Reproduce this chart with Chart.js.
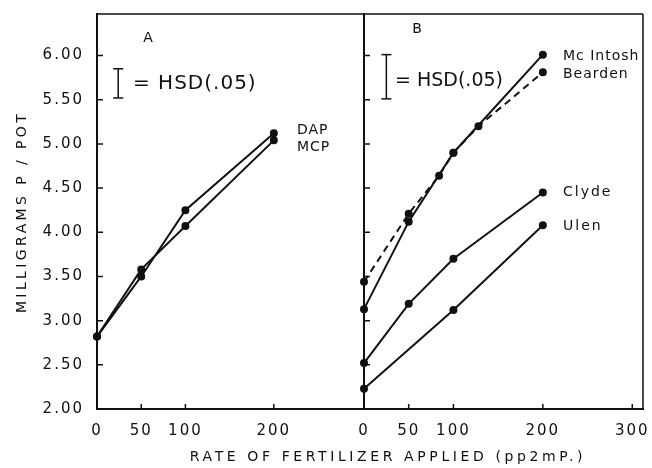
<!DOCTYPE html>
<html>
<head>
<meta charset="utf-8">
<script src="https://cdn.jsdelivr.net/npm/chart.js@4.4.1/dist/chart.umd.min.js"></script>
<style>
  html, body { margin: 0; padding: 0; background: #fff; }
  #wrap { position: relative; width: 652px; height: 468px; }
  #wrap canvas { position: absolute; left: 0; top: 0; }
</style>
</head>
<body>
<div id="wrap">
  <canvas id="chartA" width="652" height="468"></canvas>
  <canvas id="chartB" width="652" height="468"></canvas>
</div>
<script>
// tick values
const yTicks = [2, 2.5, 3, 3.5, 4, 4.5, 5, 5.5, 6];
const xTicksA = [0, 50, 100, 200];
const xTicksB = [0, 50, 100, 200, 300];

// panel A : fertilizer source
const ratesA = [0, 50, 100, 200];
const dap = [2.82, 3.50, 4.25, 5.12];
const mcp = [2.82, 3.58, 4.07, 5.04];

// panel B : soils
const rates = [0, 50, 100, 200];
const mcintosh = [3.13, 4.12, 4.90, 6.01];
const beardenRates = [0, 50, 84, 100, 128, 200];
const bearden = [3.44, 4.21, 4.64, 4.90, 5.20, 5.81];
const clyde = [2.52, 3.19, 3.70, 4.45];
const ulenRates = [0, 100, 200];
const ulen = [2.23, 3.12, 4.08];

// HSD(.05) bars [low, high]
const hsdA = [5.52, 5.85];
const hsdB = [5.51, 6.01];

const INK = '#111';
const FONT = 'DejaVu Sans';

function pts(xs, ys) { return xs.map((x, i) => ({ x: x, y: ys[i] })); }

function series(data, dash) {
  return {
    data: data,
    borderColor: INK,
    backgroundColor: INK,
    borderWidth: 2,
    borderDash: dash || [],
    pointRadius: 3,
    pointHoverRadius: 3,
    tension: 0,
    clip: false
  };
}

function hsdSet(x, range) {
  return {
    data: [{ x: x, y: range[0] }, { x: x, y: range[1] }],
    borderColor: INK,
    backgroundColor: INK,
    borderWidth: 1.5,
    pointStyle: 'line',
    pointRadius: 5,
    pointBorderWidth: 1.5,
    clip: false
  };
}

// letter spacing for library text
const spacing = {
  id: 'spacing',
  beforeLayout(chart) { chart.ctx.letterSpacing = '2px'; },
  beforeDraw(chart) { chart.ctx.letterSpacing = '2px'; }
};

// frame + inward tick marks
function frame(sides) {
  return {
    id: 'frame',
    afterDraw(chart) {
      const { ctx, chartArea: a, scales } = chart;
      ctx.save();
      ctx.strokeStyle = INK;
      ctx.lineWidth = 1.5;
      ctx.beginPath();
      if (sides.top) { ctx.moveTo(a.left, a.top); ctx.lineTo(a.right, a.top); }
      if (sides.right) { ctx.moveTo(a.right, a.top); ctx.lineTo(a.right, a.bottom); }
      scales.x.ticks.forEach(t => {
        if (t.value === 0) return;
        const px = scales.x.getPixelForValue(t.value);
        ctx.moveTo(px, a.bottom); ctx.lineTo(px, a.bottom - 5);
      });
      scales.y.ticks.forEach(t => {
        const py = scales.y.getPixelForValue(t.value);
        ctx.moveTo(a.left, py); ctx.lineTo(a.left + 6, py);
      });
      ctx.stroke();
      ctx.restore();
    }
  };
}

function text(ctx, str, x, y, size, ls, align) {
  ctx.font = size + 'px "' + FONT + '"';
  ctx.letterSpacing = ls + 'px';
  ctx.textAlign = align || 'left';
  ctx.textBaseline = 'middle';
  ctx.fillText(str, x, y);
}

const labelsA = {
  id: 'labelsA',
  afterDraw(chart) {
    const { ctx } = chart;
    ctx.save();
    ctx.fillStyle = INK;
    text(ctx, 'A', 148, 38, 14, 0, 'center');
    text(ctx, '= HSD(.05)', 133, 84, 20, 1);
    text(ctx, 'DAP', 297, 130, 14, 1);
    text(ctx, 'MCP', 297, 147, 14, 1);
    text(ctx, 'RATE OF FERTILIZER APPLIED (pp2mP.)', 388, 457, 14, 3.6, 'center');
    ctx.translate(22, 212);
    ctx.rotate(-Math.PI / 2);
    text(ctx, 'MILLIGRAMS P / POT', 0, 0, 14, 3.4, 'center');
    ctx.restore();
  }
};

const labelsB = {
  id: 'labelsB',
  afterDraw(chart) {
    const { ctx } = chart;
    ctx.save();
    ctx.fillStyle = INK;
    text(ctx, 'B', 417, 29, 14, 0, 'center');
    text(ctx, '= HSD(.05)', 395, 81, 19, 0);
    text(ctx, 'Mc Intosh', 563, 56, 14, 1);
    text(ctx, 'Bearden', 563, 74, 14, 1);
    text(ctx, 'Clyde', 563, 192, 14, 2);
    text(ctx, 'Ulen', 563, 226, 14, 2);
    ctx.restore();
  }
};

function scalesFor(xMax, xTicks, yWidth, showY) {
  return {
    x: {
      type: 'linear',
      min: 0,
      max: xMax,
      afterBuildTicks: s => { s.ticks = xTicks.map(v => ({ value: v })); },
      afterFit: s => { s.height = 59; s.paddingLeft = 0; s.paddingRight = 0; },
      grid: { display: false, drawTicks: false },
      border: { color: INK, width: 2 },
      ticks: { color: INK, font: { family: FONT, size: 15 }, padding: 13, maxRotation: 0, autoSkip: false }
    },
    y: {
      type: 'linear',
      min: 2,
      max: 6.47,
      afterBuildTicks: s => { s.ticks = yTicks.map(v => ({ value: v })); },
      afterFit: s => { s.width = yWidth; s.paddingTop = 0; s.paddingBottom = 0; },
      grid: { display: false, drawTicks: false },
      border: { color: INK, width: 2 },
      ticks: {
        display: showY,
        color: INK,
        font: { family: FONT, size: 15 },
        padding: 13,
        callback: v => v.toFixed(2)
      }
    }
  };
}

const common = {
  responsive: false,
  animation: false,
  events: [],
  plugins: { legend: { display: false }, tooltip: { enabled: false } }
};

new Chart(document.getElementById('chartA'), {
  type: 'line',
  data: {
    datasets: [
      series(pts(ratesA, dap)),
      series(pts(ratesA, mcp)),
      hsdSet(24, hsdA)
    ]
  },
  options: Object.assign({}, common, {
    layout: { padding: { top: 14, right: 652 - 364, left: 0, bottom: 0 } },
    scales: scalesFor(302, xTicksA, 97, true)
  }),
  plugins: [spacing, frame({ top: true }), labelsA]
});

new Chart(document.getElementById('chartB'), {
  type: 'line',
  data: {
    datasets: [
      series(pts(rates, mcintosh)),
      series(pts(beardenRates, bearden), [7, 5]),
      series(pts(rates, clyde)),
      series(pts(ulenRates, ulen)),
      hsdSet(25, hsdB)
    ]
  },
  options: Object.assign({}, common, {
    layout: { padding: { top: 14, right: 9, left: 344, bottom: 0 } },
    scales: scalesFor(312, xTicksB, 20, false)
  }),
  plugins: [spacing, frame({ top: true, right: true }), labelsB]
});
</script>
</body>
</html>
